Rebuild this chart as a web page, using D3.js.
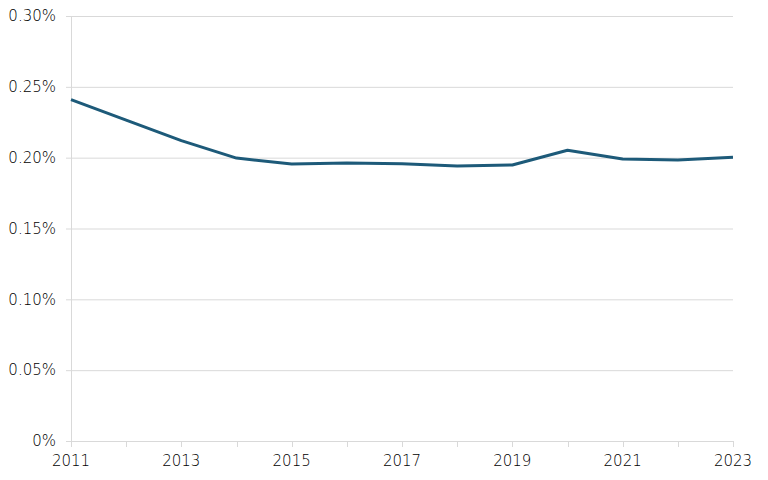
<!DOCTYPE html>
<html><head><meta charset="utf-8">
<script src="https://cdn.jsdelivr.net/npm/d3@7"></script>
<style>body{margin:0;background:#fff}svg{display:block}text{font-family:"DejaVu Sans",sans-serif;font-size:15px;font-weight:200;fill:#000}</style>
</head><body><svg id="c" width="768" height="480"></svg>
<script>
const years = [2011,2012,2013,2014,2015,2016,2017,2018,2019,2020,2021,2022,2023];
const values = [0.2410,0.2265,0.2120,0.1997,0.1955,0.1963,0.1957,0.1942,0.1948,0.2052,0.1990,0.1983,0.2003];
const yTicks = [0,0.05,0.10,0.15,0.20,0.25,0.30];
const xTickLabels = [2011,2013,2015,2017,2019,2021,2023];

const svg = d3.select("#c");
const L=71,R=733,T=16,B=441;
const x = d3.scaleLinear().domain([2011,2023]).range([L,R]);
const y = d3.scaleLinear().domain([0,0.30]).range([B,T]);
const grid="#d9d9d9";

svg.append("g").selectAll("line").data(yTicks).join("line")
  .attr("x1",L-5).attr("x2",R).attr("y1",d=>y(d)+0.5).attr("y2",d=>y(d)+0.5)
  .attr("stroke",grid).attr("stroke-width",1);
svg.append("line").attr("x1",L+0.5).attr("x2",L+0.5).attr("y1",T).attr("y2",B).attr("stroke",grid);
svg.append("g").selectAll("line").data(years).join("line")
  .attr("x1",d=>Math.round(x(d))+0.5).attr("x2",d=>Math.round(x(d))+0.5).attr("y1",B).attr("y2",B+6)
  .attr("stroke",grid);

svg.append("g").selectAll("text").data(yTicks).join("text")
  .attr("x",L-15).attr("y",d=>y(d)).attr("dy","0.35em").attr("text-anchor","end")
  .text(d=>d===0?"0%":d.toFixed(2)+"%");
svg.append("g").selectAll("text").data(xTickLabels).join("text")
  .attr("x",d=>x(d)).attr("y",B+25).attr("text-anchor","middle").text(d=>d);

const line = d3.line().x((d,i)=>x(years[i])).y(d=>y(d));
svg.append("path").datum(values).attr("d",line).attr("fill","none")
  .attr("stroke","#1d5a79").attr("stroke-width",3).attr("stroke-linejoin","round");
</script></body></html>
